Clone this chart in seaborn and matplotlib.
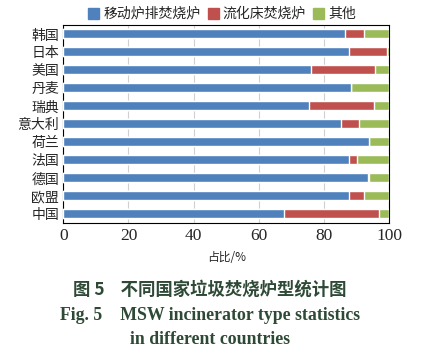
import numpy as np
import pandas as pd
import matplotlib
matplotlib.use('Agg')
import matplotlib.pyplot as plt
import matplotlib.patches as mpatches
from matplotlib.ticker import FixedLocator
import seaborn as sns

sns.set_style('white')
plt.rcParams['font.family'] = ['Noto Sans CJK SC', 'DejaVu Sans']

countries = ['韩国', '日本', '美国', '丹麦', '瑞典', '意大利', '荷兰', '法国', '德国', '欧盟', '中国']
grate = [86.5, 87.7, 76.1, 88.2, 75.3, 85.3, 94.0, 87.7, 93.6, 87.8, 67.9]
fluid = [5.7, 11.6, 19.5, 0.0, 20.0, 5.5, 0.0, 2.6, 0.3, 4.4, 29.0]
other = [7.8, 0.7, 4.4, 11.8, 4.7, 9.2, 6.0, 9.7, 6.1, 7.8, 3.1]
series_names = ['移动炉排焚烧炉', '流化床焚烧炉', '其他']
colors = ['#4F81BD', '#C0504D', '#9BBB59']

df = pd.DataFrame({'country': countries, 'grate': grate, 'fluid': fluid, 'other': other})
df['c1'] = df['grate']
df['c2'] = df['grate'] + df['fluid']
df['c3'] = df['c2'] + df['other']

fig = plt.figure(figsize=(4.4, 3.51), dpi=100)
ax = fig.add_axes([0.144, 0.365, 0.740, 0.564])

# stacked bars: draw the cumulative totals back to front
for col, c in zip(['c3', 'c2', 'c1'], colors[::-1]):
    sns.barplot(data=df, x=col, y='country', order=countries, color=c,
                width=0.5, saturation=1, ax=ax, zorder=3)

ax.set_xlim(0, 100)
ax.set_xticks([0, 20, 40, 60, 80, 100])
ax.xaxis.grid(True, color='#d0d0d0', lw=0.8, zorder=0)
ax.set_axisbelow(True)
ax.tick_params(axis='x', length=0, labelsize=12.5, pad=4)
for t in ax.get_xticklabels():
    t.set_family(['Liberation Serif'])
ax.tick_params(axis='y', which='major', length=0, labelsize=10, pad=3)
ax.yaxis.set_minor_locator(FixedLocator(np.arange(-0.5, len(countries), 1)))
ax.tick_params(axis='y', which='minor', direction='in', length=3, width=0.8, color='black')
for s in ax.spines.values():
    s.set_color('black')
    s.set_linewidth(0.8)
ax.set_ylabel('')
ax.set_xlabel('占比/%', fontsize=8.5, labelpad=5)

handles = [mpatches.Patch(color=c, label=n) for c, n in zip(colors, series_names)]
fig.legend(handles=handles, loc='center', bbox_to_anchor=(0.505, 0.96), ncol=3, frameon=False,
           fontsize=10, handlelength=0.8, handleheight=0.8, handletextpad=0.3, columnspacing=0.5,
           borderpad=0)

cap = '#2E4A36'
fig.text(0.477, 0.174, '图 5    不同国家垃圾焚烧炉型统计图', ha='center', va='center',
         fontsize=12.5, fontweight='bold', color=cap, family=['Noto Sans CJK SC'])
fig.text(0.477, 0.100, 'Fig. 5    MSW incinerator type statistics', ha='center', va='center',
         fontsize=12.8, fontweight='bold', color=cap, family=['Liberation Serif'])
fig.text(0.477, 0.033, 'in different countries', ha='center', va='center',
         fontsize=12.8, fontweight='bold', color=cap, family=['Liberation Serif'])

fig.savefig('out.png', dpi=100)
